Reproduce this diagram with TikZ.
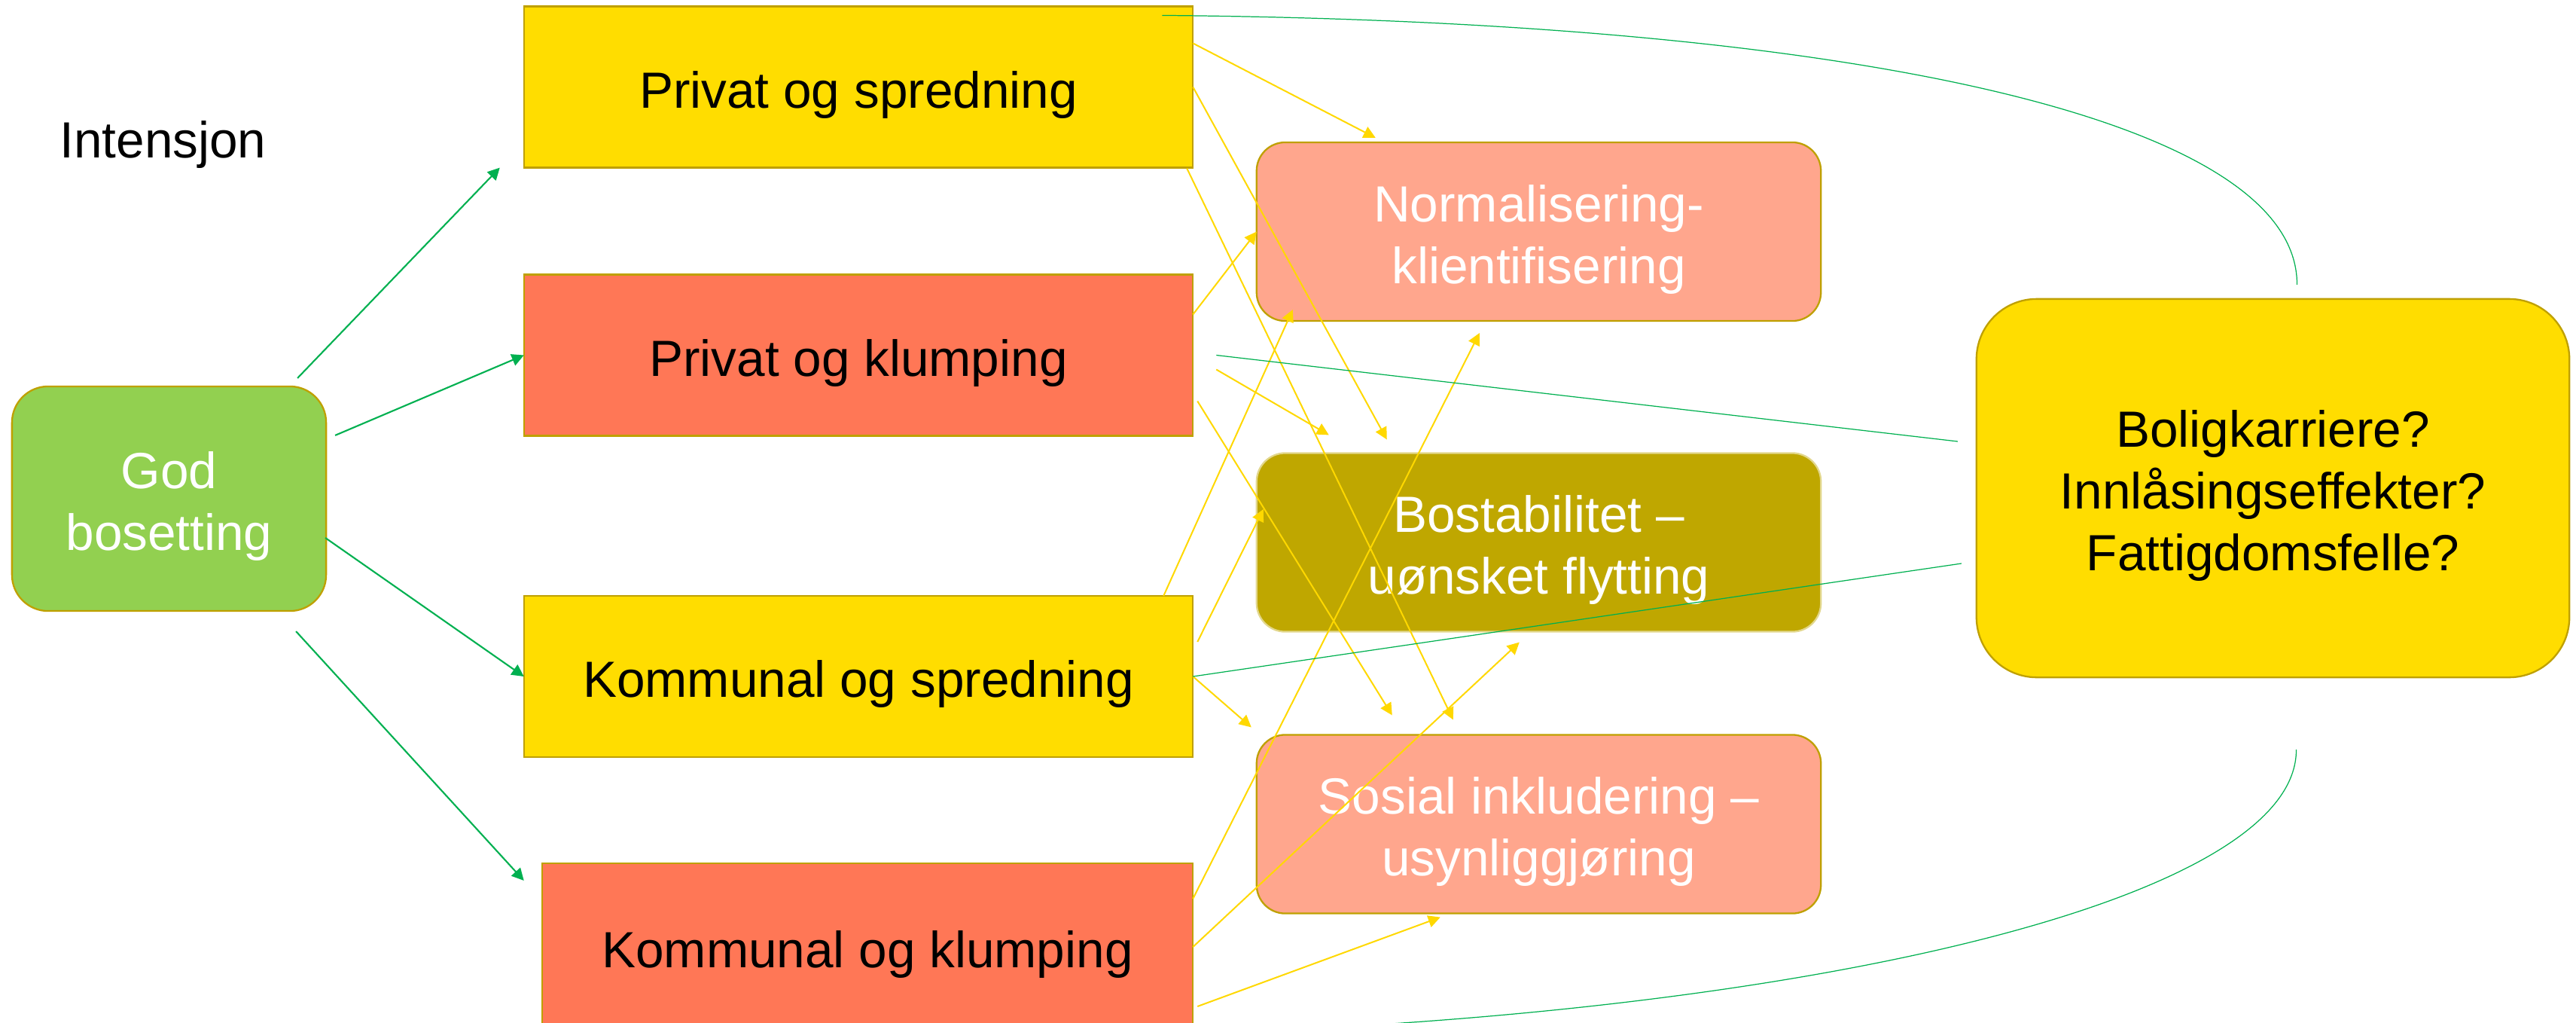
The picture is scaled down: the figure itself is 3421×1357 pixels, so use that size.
\documentclass[tikz,border=0pt]{standalone}
\usepackage{fontspec}
\setmainfont{Liberation Sans}
\usetikzlibrary{arrows.meta,calc}

\definecolor{gul}{HTML}{FFDD00}
\definecolor{oransje}{HTML}{FF7756}
\definecolor{laks}{HTML}{FFA68D}
\definecolor{oliven}{HTML}{BFA700}
\definecolor{lysgronn}{HTML}{92D050}
\definecolor{kant}{HTML}{BFA000}
\definecolor{gronn}{HTML}{00B050}
\definecolor{pil}{HTML}{FFD800}

\newcommand{\opp}{\rule{0pt}{1.03em}}

\tikzset{
  tekst/.style={font=\fontsize{19.2}{23.3}\selectfont},
  boks/.style={tekst,draw=kant,line width=0.65pt,inner sep=0pt,outer sep=0pt,align=center},
  pilspiss/.style={-{Triangle[length=0.16cm,width=0.16cm]}}
}

\begin{document}
\begin{tikzpicture}[x=0.01cm,y=-0.01cm]
        \useasboundingbox (0,0) rectangle (3421,1357);
        \clip (0,0) rectangle (3421,1357);

        \node[tekst,anchor=base] (int) at (216.5,209) {Intensjon};

        \node[boks,fill=lysgronn,text=white,rounded corners=0.48cm,
              minimum width=4.17cm,minimum height=2.98cm] (gb) at (224.5,662) {\opp God\\bosetting};

        \begin{scope}[every node/.style={boks,minimum width=8.88cm,minimum height=2.14cm}]
          \node[fill=gul]     (ps) at (1140,115.5) {\opp Privat og spredning};
          \node[fill=oransje] (pk) at (1140,471.5) {\opp Privat og klumping};
          \node[fill=gul]     (ks) at (1140,898)   {\opp Kommunal og spredning};
          \node[fill=oransje,minimum width=8.64cm,minimum height=2.22cm]
                              (kk) at (1152,1257)  {\opp Kommunal og klumping};
        \end{scope}

        \begin{scope}[every node/.style={boks,text=white,rounded corners=0.38cm,
                                         minimum width=7.49cm,minimum height=2.37cm}]
          \node[fill=laks]   (nk) at (2043.5,307.5) {\opp Normalisering-\\klientifisering};
          \node[fill=oliven,draw=oliven!45!white] (bs) at (2043.5,720) {\opp Bostabilitet –\\uønsket flytting};
          \node[fill=laks]   (si) at (2043.5,1094)  {\opp Sosial inkludering –\\usynliggjøring};
        \end{scope}

        \node[boks,fill=gul,rounded corners=0.8cm,minimum width=7.87cm,minimum height=5.02cm]
              (bk) at (3018.5,648) {\opp Boligkarriere?\\Innlåsingseffekter?\\Fattigdomsfelle?};

        \coordinate (bunn) at (1800,1362);

        \begin{scope}[every edge/.style={draw=gronn,line width=0.6pt,pilspiss}]
          \path ($(gb.north east)+(-38,-11)$) edge ($(ps.south west)+(-32,0)$);
          \path ($(gb.north east)+(12,65)$)   edge (pk.west);
          \path ($(gb.east)+(-1,52)$)         edge (ks.west);
          \path ($(gb.south east)+(-40,27)$)  edge ($(kk.north west)+(-24,23)$);
        \end{scope}

        \begin{scope}[every edge/.style={draw=pil,line width=0.57pt,pilspiss}]
          \path ($(ps.north east)+(0,49)$)  edge ($(nk.north west)+(158,-6)$);
          \path (ps.east)                   edge ($(bs.north west)+(173,-18)$);
          \path ($(ps.south east)+(-8,1)$)  edge ($(si.north west)+(261,-20)$);
          \path ($(pk.north east)+(0,53)$)  edge (nk.west);
          \path ($(pk.east)+(31,19)$)       edge ($(bs.north west)+(96,-24)$);
          \path ($(pk.east)+(6,61)$)        edge ($(si.north west)+(180,-26)$);
          \path ($(ks.north east)+(-39,0)$) edge ($(nk.south west)+(48,-15)$);
          \path ($(ks.east)+(6,-46)$)       edge ($(bs.west)+(9,-44)$);
          \path (ks.east)                   edge ($(si.north west)+(-7,-10)$);
          \path ($(kk.north east)+(0,47)$)  edge ($(nk.south west)+(296,16)$);
          \path (kk.east)                   edge ($(bs.south west)+(349,14)$);
          \path ($(kk.east)+(6,79)$)        edge ($(si.south west)+(244,5)$);
        \end{scope}

        \begin{scope}[every edge/.style={draw=gronn,line width=0.35pt}]
          \path ($(pk.east)+(31,0)$) edge ($(bk.west)+(-25,-62)$);
          \path (ks.east)            edge ($(bk.west)+(-20,100)$);
        \end{scope}

        \draw[gronn,line width=0.35pt] ($(ps.north east)+(-41,12)$)
              .. controls (2450,28) and (3051,155) .. ($(bk.north)+(32,-19)$);
        \draw[gronn,line width=0.35pt] ($(bk.south)+(31,96)$)
              .. controls (3050,1180) and (2500,1320) .. (bunn);

\end{tikzpicture}
\end{document}
